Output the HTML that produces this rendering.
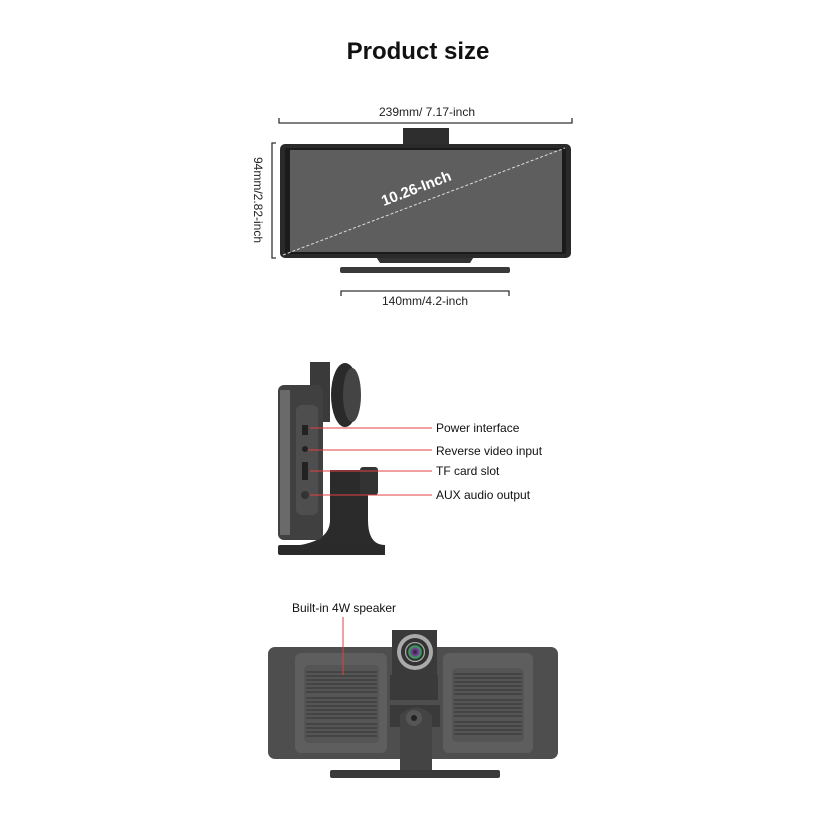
<!DOCTYPE html>
<html><head><style>
body{margin:0;background:#fff}
svg text{font-family:"Liberation Sans",sans-serif}
</style></head><body>
<svg width="830" height="830" viewBox="0 0 830 830" xmlns="http://www.w3.org/2000/svg">
<defs>
<radialGradient id="lens"><stop offset="0" stop-color="#222"/><stop offset=".35" stop-color="#7a3c9a"/><stop offset=".6" stop-color="#3aa55a"/><stop offset=".8" stop-color="#1a1a1a"/><stop offset="1" stop-color="#ddd"/></radialGradient>
</defs>
<text x="418" y="59" font-size="24" font-weight="bold" text-anchor="middle" fill="#111">Product size</text>

<text x="427" y="116" font-size="12" text-anchor="middle" fill="#222">239mm/ 7.17-inch</text>
<path d="M279 118V123H572V118" fill="none" stroke="#333" stroke-width="1.3"/>
<path d="M276 143H272V258H276" fill="none" stroke="#333" stroke-width="1.3"/>
<text transform="translate(254,200) rotate(90)" font-size="12" text-anchor="middle" fill="#222">94mm/2.82-inch</text>
<path d="M341 296V291H509V296" fill="none" stroke="#333" stroke-width="1.3"/>
<text x="425" y="305" font-size="12" text-anchor="middle" fill="#222">140mm/4.2-inch</text>

<rect x="403" y="128" width="46" height="18" fill="#2e2e2e"/>
<path d="M375 255L380 263H470L475 255Z" fill="#333"/>
<rect x="340" y="267" width="170" height="6" rx="2" fill="#3a3a3a"/>
<rect x="280" y="144" width="291" height="114" rx="5" fill="#2a2a2a"/>
<rect x="285" y="148" width="281" height="106" rx="2" fill="#1b1b1b"/>
<rect x="290" y="150" width="272" height="102" fill="#5e5e5e"/>
<line x1="283" y1="255" x2="565" y2="148" stroke="#ddd" stroke-width="1" stroke-dasharray="3,2"/>
<text transform="translate(418,193) rotate(-21)" font-size="15" font-weight="bold" text-anchor="middle" fill="#fff">10.26-Inch</text>

<rect x="310" y="362" width="20" height="60" fill="#3a3a3a"/>
<ellipse cx="345" cy="395" rx="14" ry="32" fill="#2a2a2a"/>
<ellipse cx="352" cy="395" rx="9" ry="27" fill="#444"/>
<path d="M330 470H368V520Q368 545 385 545V555H300V545Q330 540 330 520Z" fill="#2b2b2b"/>
<rect x="278" y="545" width="106" height="10" rx="2" fill="#2a2a2a"/>
<rect x="360" y="467" width="18" height="28" rx="3" fill="#333"/>
<rect x="278" y="385" width="45" height="155" rx="6" fill="#404040"/>
<rect x="280" y="390" width="10" height="145" fill="#6a6a6a"/>
<rect x="296" y="405" width="22" height="110" rx="6" fill="#4e4e4e"/>
<rect x="302" y="425" width="6" height="10" fill="#222"/>
<circle cx="305" cy="449" r="3" fill="#222"/>
<rect x="302" y="462" width="6" height="18" fill="#222"/>
<circle cx="305" cy="495" r="4" fill="#333"/>
<g stroke="#e04040" stroke-width="1"><line x1="310" y1="428" x2="432" y2="428"/><line x1="308" y1="450" x2="432" y2="450"/><line x1="310" y1="471" x2="432" y2="471"/><line x1="310" y1="495" x2="432" y2="495"/></g>
<g font-size="12" fill="#111"><text x="436" y="432">Power interface</text><text x="436" y="455">Reverse video input</text><text x="436" y="475">TF card slot</text><text x="436" y="499">AUX audio output</text></g>

<text x="292" y="612" font-size="12" fill="#111">Built-in 4W speaker</text>
<rect x="268" y="647" width="290" height="112" rx="7" fill="#4e4e4e"/>
<rect x="295" y="653" width="92" height="100" rx="6" fill="#5e5e5e"/>
<rect x="443" y="653" width="90" height="100" rx="6" fill="#5e5e5e"/>
<rect x="304" y="665" width="75" height="78" rx="5" fill="#555"/>
<rect x="452" y="668" width="72" height="74" rx="5" fill="#555"/>
<g stroke="#3a3a3a" stroke-width="1.2">
<path d="M306 672H377M306 676H377M306 680H377M306 684H377M306 688H377M306 692H377M306 698H377M306 702H377M306 706H377M306 710H377M306 714H377M306 718H377M306 724H377M306 728H377M306 732H377M306 736H377"/>
<path d="M454 674H522M454 678H522M454 682H522M454 686H522M454 690H522M454 694H522M454 700H522M454 704H522M454 708H522M454 712H522M454 716H522M454 722H522M454 726H522M454 730H522M454 734H522"/>
</g>
<rect x="390" y="675" width="48" height="25" fill="#3a3a3a"/>
<rect x="390" y="705" width="50" height="22" fill="#3a3a3a"/>
<path d="M400 715Q416 700 432 715V772H400Z" fill="#444"/>
<circle cx="414" cy="718" r="8" fill="#555"/><circle cx="414" cy="718" r="3" fill="#222"/>
<rect x="330" y="770" width="170" height="8" rx="2" fill="#3a3a3a"/>
<rect x="392" y="630" width="45" height="50" fill="#3a3a3a"/>
<circle cx="415" cy="652" r="18" fill="#aaa"/>
<circle cx="415" cy="652" r="14" fill="#333"/>
<circle cx="415" cy="652" r="10" fill="url(#lens)"/>
<line x1="343" y1="617" x2="343" y2="675" stroke="#e04040" stroke-width="1"/>
</svg>
</body></html>
